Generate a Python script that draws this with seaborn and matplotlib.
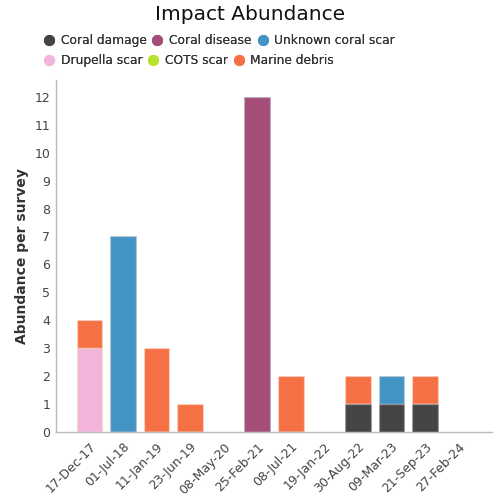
import matplotlib
matplotlib.use("Agg")
import matplotlib.pyplot as plt
from matplotlib.lines import Line2D
import numpy as np
import pandas as pd
import seaborn as sns

# survey dates
surveys = ["17-Dec-17", "01-Jul-18", "11-Jan-19", "23-Jun-19", "08-May-20",
           "25-Feb-21", "08-Jul-21", "19-Jan-22", "30-Aug-22", "09-Mar-23",
           "21-Sep-23", "27-Feb-24"]

# abundance per survey, one list per impact type (stack order bottom -> top)
coral_damage = [0, 0, 0, 0, 0, 0, 0, 0, 1, 1, 1, 0]
coral_disease = [0, 0, 0, 0, 0, 12, 0, 0, 0, 0, 0, 0]
unknown_scar = [0, 7, 0, 0, 0, 0, 0, 0, 0, 1, 0, 0]
drupella_scar = [3, 0, 0, 0, 0, 0, 0, 0, 0, 0, 0, 0]
cots_scar = [0, 0, 0, 0, 0, 0, 0, 0, 0, 0, 0, 0]
marine_debris = [1, 0, 3, 1, 0, 0, 2, 0, 1, 0, 1, 0]

series_names = ["Coral damage", "Coral disease", "Unknown coral scar",
                "Drupella scar", "COTS scar", "Marine debris"]
colors = ["#444444", "#a44d78", "#4394c4", "#f2b5d9", "#b7e22e", "#f57145"]

df = pd.DataFrame({
    "Coral damage": coral_damage,
    "Coral disease": coral_disease,
    "Unknown coral scar": unknown_scar,
    "Drupella scar": drupella_scar,
    "COTS scar": cots_scar,
    "Marine debris": marine_debris,
}, index=surveys)

sns.set_style("white")
plt.rcParams["font.family"] = ["DejaVu Sans"]

fig = plt.figure(figsize=(5, 5), dpi=100)
ax = fig.add_axes([0.112, 0.136, 0.872, 0.704])

# stacked bars: draw cumulative totals from the top layer down
cum = df.cumsum(axis=1)
for name, col in reversed(list(zip(series_names, colors))):
    sns.barplot(x=list(range(len(surveys))), y=cum[name].values, color=col,
                width=0.76, saturation=1, ax=ax, native_scale=True,
                edgecolor=(1, 1, 1, 0.25), linewidth=1)

ax.set_xlim(-1, len(surveys))
ax.set_ylim(0, 12.6)
ax.set_yticks(range(0, 13))
ax.set_xticks(range(len(surveys)))
ax.set_xticklabels(surveys, rotation=45, ha="right", rotation_mode="anchor")
ax.tick_params(axis="both", colors="#444444", labelsize=9, length=0, pad=4)
ax.tick_params(axis="x", pad=6)
ax.set_ylabel("Abundance per survey", fontsize=10, color="#333333",
              fontweight="bold", labelpad=4)
ax.set_xlabel("")
for s in ["top", "right"]:
    ax.spines[s].set_visible(False)
for s in ["left", "bottom"]:
    ax.spines[s].set_color("#bbbbbb")
    ax.spines[s].set_linewidth(1)

fig.text(0.5, 0.97, "Impact Abundance", ha="center", va="center",
         fontsize=14.5, color="#111111")

# legend in two flowing rows
handles = [Line2D([], [], marker="o", linestyle="", markersize=7,
                  markerfacecolor=c, markeredgecolor=c) for c in colors]
for row, y in [(0, 0.919), (1, 0.879)]:
    idx = range(row * 3, row * 3 + 3)
    leg = fig.legend([handles[i] for i in idx], [series_names[i] for i in idx],
                     loc="center left", bbox_to_anchor=(0.076, y), ncol=3,
                     frameon=False, fontsize=8.8, handletextpad=0.55,
                     columnspacing=0.5, handlelength=0.8, borderpad=0)
    for t in leg.get_texts():
        t.set_color("#333333")
    fig.add_artist(leg)

fig.savefig("out.png", dpi=100)
